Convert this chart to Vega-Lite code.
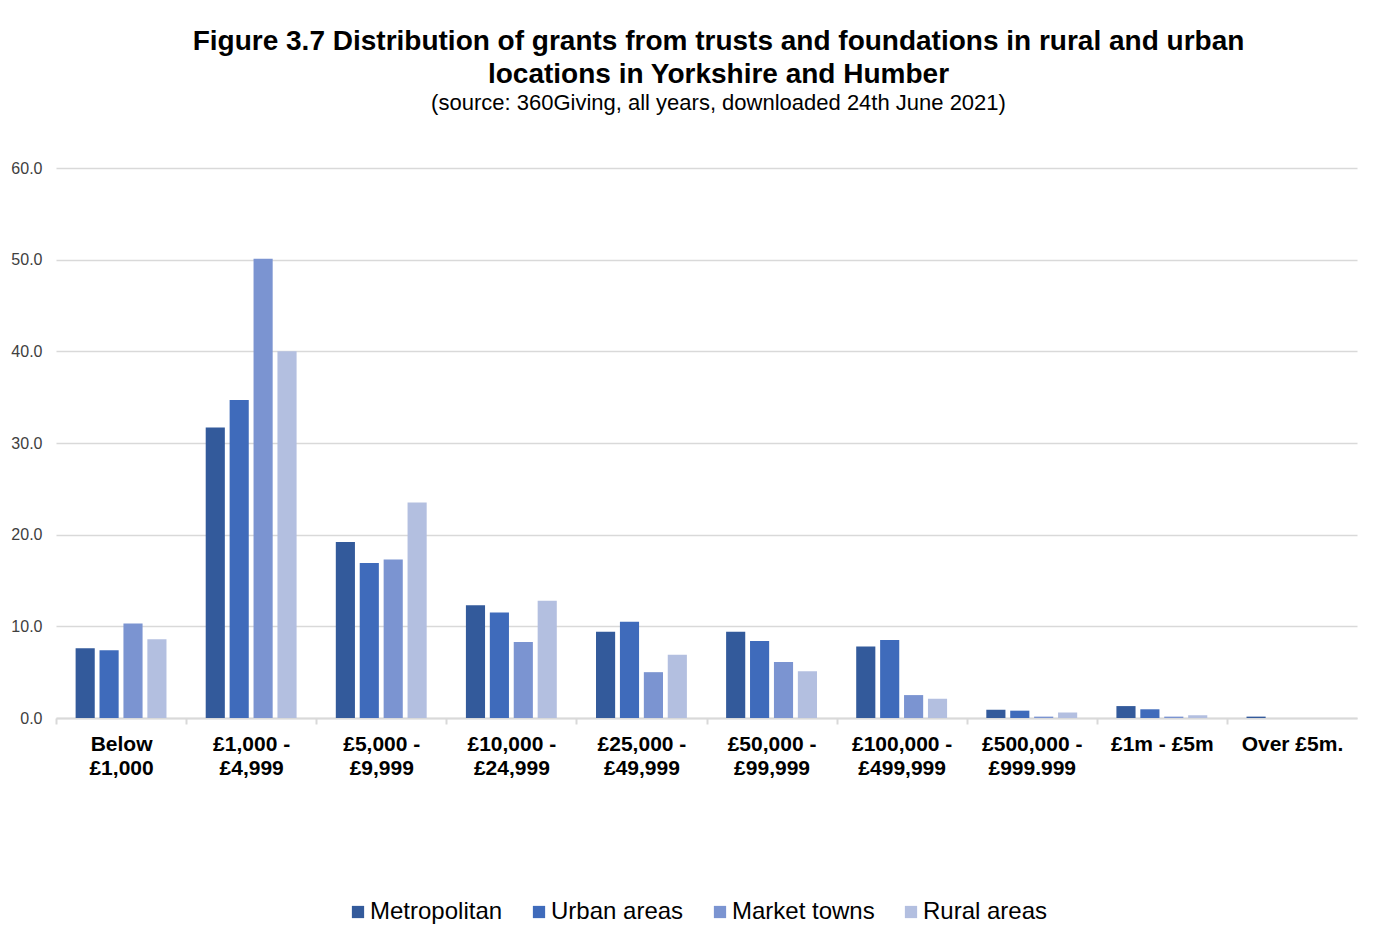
{
  "$schema": "https://vega.github.io/schema/vega-lite/v6.json",
  "width": 1301,
  "height": 550,
  "padding": {"left": 10, "top": 28, "right": 31, "bottom": 10},
  "background": "white",
  "title": {
    "text": ["Figure 3.7  Distribution of grants from trusts and foundations in rural and urban", "locations in Yorkshire and Humber"],
    "subtitle": "(source: 360Giving, all years, downloaded 24th June 2021)",
    "font": "Liberation Sans",
    "fontSize": 28,
    "fontWeight": "bold",
    "color": "#000000",
    "lineHeight": 33,
    "subtitleFont": "Liberation Sans",
    "subtitleFontSize": 22,
    "subtitleColor": "#000000",
    "subtitlePadding": 4,
    "anchor": "middle",
    "dx": 12,
    "offset": 46
  },
  "data": {
    "values": [
      {"band": "Below £1,000", "location": "Metropolitan", "value": 7.6},
      {"band": "Below £1,000", "location": "Urban areas", "value": 7.4},
      {"band": "Below £1,000", "location": "Market towns", "value": 10.3},
      {"band": "Below £1,000", "location": "Rural areas", "value": 8.6},
      {"band": "£1,000 - £4,999", "location": "Metropolitan", "value": 31.7},
      {"band": "£1,000 - £4,999", "location": "Urban areas", "value": 34.7},
      {"band": "£1,000 - £4,999", "location": "Market towns", "value": 50.1},
      {"band": "£1,000 - £4,999", "location": "Rural areas", "value": 40.0},
      {"band": "£5,000 - £9,999", "location": "Metropolitan", "value": 19.2},
      {"band": "£5,000 - £9,999", "location": "Urban areas", "value": 16.9},
      {"band": "£5,000 - £9,999", "location": "Market towns", "value": 17.3},
      {"band": "£5,000 - £9,999", "location": "Rural areas", "value": 23.5},
      {"band": "£10,000 - £24,999", "location": "Metropolitan", "value": 12.3},
      {"band": "£10,000 - £24,999", "location": "Urban areas", "value": 11.5},
      {"band": "£10,000 - £24,999", "location": "Market towns", "value": 8.3},
      {"band": "£10,000 - £24,999", "location": "Rural areas", "value": 12.8},
      {"band": "£25,000 - £49,999", "location": "Metropolitan", "value": 9.4},
      {"band": "£25,000 - £49,999", "location": "Urban areas", "value": 10.5},
      {"band": "£25,000 - £49,999", "location": "Market towns", "value": 5.0},
      {"band": "£25,000 - £49,999", "location": "Rural areas", "value": 6.9},
      {"band": "£50,000 - £99,999", "location": "Metropolitan", "value": 9.4},
      {"band": "£50,000 - £99,999", "location": "Urban areas", "value": 8.4},
      {"band": "£50,000 - £99,999", "location": "Market towns", "value": 6.1},
      {"band": "£50,000 - £99,999", "location": "Rural areas", "value": 5.1},
      {"band": "£100,000 - £499,999", "location": "Metropolitan", "value": 7.8},
      {"band": "£100,000 - £499,999", "location": "Urban areas", "value": 8.5},
      {"band": "£100,000 - £499,999", "location": "Market towns", "value": 2.5},
      {"band": "£100,000 - £499,999", "location": "Rural areas", "value": 2.1},
      {"band": "£500,000 - £999.999", "location": "Metropolitan", "value": 0.9},
      {"band": "£500,000 - £999.999", "location": "Urban areas", "value": 0.8},
      {"band": "£500,000 - £999.999", "location": "Market towns", "value": 0.15},
      {"band": "£500,000 - £999.999", "location": "Rural areas", "value": 0.6},
      {"band": "£1m - £5m", "location": "Metropolitan", "value": 1.3},
      {"band": "£1m - £5m", "location": "Urban areas", "value": 0.95},
      {"band": "£1m - £5m", "location": "Market towns", "value": 0.15},
      {"band": "£1m - £5m", "location": "Rural areas", "value": 0.3},
      {"band": "Over £5m.", "location": "Metropolitan", "value": 0.15},
      {"band": "Over £5m.", "location": "Urban areas", "value": 0.0},
      {"band": "Over £5m.", "location": "Market towns", "value": 0.0},
      {"band": "Over £5m.", "location": "Rural areas", "value": 0.0}
    ]
  },
  "mark": {"type": "bar"},
  "encoding": {
    "x": {
      "field": "band",
      "type": "nominal",
      "sort": null,
      "scale": {"paddingInner": 0, "paddingOuter": 0},
      "axis": {
        "title": null,
        "labelAngle": 0,
        "labelFont": "Liberation Sans",
        "labelFontSize": 21,
        "labelFontWeight": "bold",
        "labelColor": "#000000",
        "labelLineHeight": 24,
        "labelPadding": 9,
        "labelExpr": "datum.label == 'Below £1,000' ? ['Below', '£1,000'] : (indexof(datum.label, ' - £') > 0 && indexof(datum.label, 'm') < 0 ? [slice(datum.label, 0, indexof(datum.label, ' - £') + 2), slice(datum.label, indexof(datum.label, ' - £') + 3)] : datum.label)",
        "tickOffset": -65,
        "labelOffset": 65,
        "tickSize": 6,
        "tickColor": "#d9d9d9",
        "tickWidth": 2,
        "domainColor": "#d9d9d9",
        "domainWidth": 2,
        "grid": false
      }
    },
    "xOffset": {
      "field": "location",
      "type": "nominal",
      "sort": ["Metropolitan", "Urban areas", "Market towns", "Rural areas"],
      "scale": {"paddingInner": 0.2, "paddingOuter": 0.82}
    },
    "y": {
      "field": "value",
      "type": "quantitative",
      "scale": {"domain": [0, 60]},
      "axis": {
        "title": null,
        "values": [0, 10, 20, 30, 40, 50, 60],
        "format": ".1f",
        "labelFont": "Liberation Sans",
        "labelFontSize": 16,
        "labelColor": "#404040",
        "labelPadding": 14,
        "ticks": false,
        "domain": false,
        "gridColor": "#d9d9d9",
        "gridWidth": 1.5
      }
    },
    "color": {
      "field": "location",
      "type": "nominal",
      "sort": ["Metropolitan", "Urban areas", "Market towns", "Rural areas"],
      "scale": {
        "domain": ["Metropolitan", "Urban areas", "Market towns", "Rural areas"],
        "range": ["#335A9B", "#3F6BBB", "#7B94D1", "#B3BFE0"]
      },
      "legend": {
        "title": null,
        "orient": "none",
        "legendX": 290,
        "legendY": 732,
        "direction": "horizontal",
        "symbolType": "square",
        "symbolSize": 150,
        "symbolStrokeWidth": 0,
        "labelFont": "Liberation Sans",
        "labelFontSize": 24,
        "labelColor": "#000000",
        "labelOffset": 0,
        "columnPadding": 24
      }
    }
  },
  "config": {
    "view": {"stroke": null}
  }
}
